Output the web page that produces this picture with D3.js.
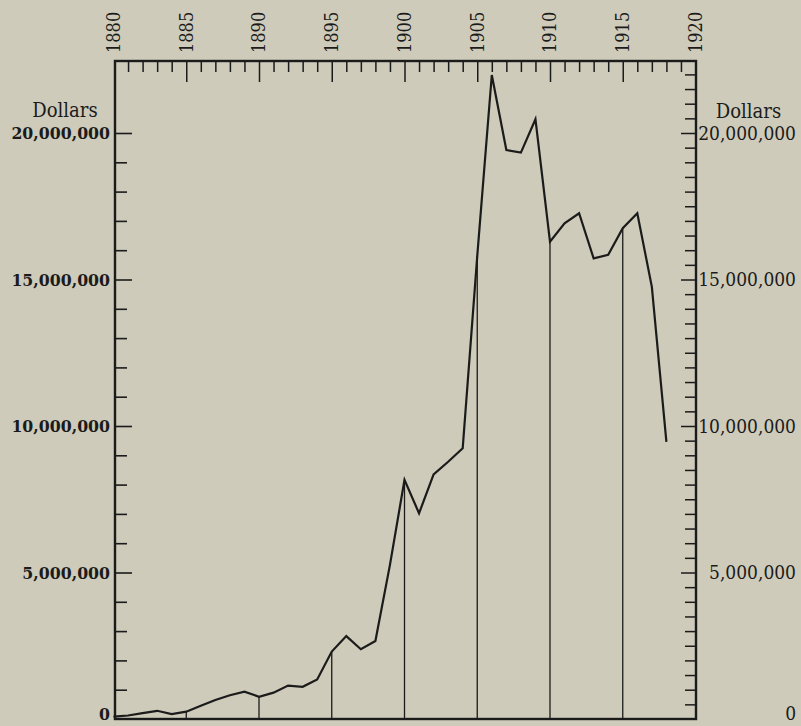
<!DOCTYPE html>
<html>
<head>
<meta charset="utf-8">
<script src="https://cdn.jsdelivr.net/npm/d3@7"></script>
<style>
  html, body { margin: 0; padding: 0; background: #cecbba; }
  svg { display: block; }
  text { font-family: "DejaVu Serif Condensed", "DejaVu Serif", serif; font-stretch: condensed; fill: #1b1b1b; }
</style>
</head>
<body>
<svg id="chart" width="801" height="726"></svg>
<script>
// Annual value in dollars, 1880–1918
const years = [1880, 1881, 1882, 1883, 1884, 1885, 1886, 1887, 1888, 1889,
               1890, 1891, 1892, 1893, 1894, 1895, 1896, 1897, 1898, 1899,
               1900, 1901, 1902, 1903, 1904, 1905, 1906, 1907, 1908, 1909,
               1910, 1911, 1912, 1913, 1914, 1915, 1916, 1917, 1918];
const values = [80000, 120000, 200000, 280000, 170000, 250000, 450000, 650000, 810000, 930000,
                760000, 900000, 1140000, 1100000, 1350000, 2300000, 2830000, 2380000, 2660000, 5260000,
                8160000, 7020000, 8350000, 8780000, 9240000, 15800000, 21980000, 19420000, 19330000, 20470000,
                16290000, 16920000, 17260000, 15720000, 15840000, 16750000, 17260000, 14750000, 9460000];

// Years marked with a drop line to the base
const dropYears = [1885, 1890, 1895, 1900, 1905, 1910, 1915];

// Axis labelling
const yearLabels = [1880, 1885, 1890, 1895, 1900, 1905, 1910, 1915, 1920];
const dollarLabels = [0, 5000000, 10000000, 15000000, 20000000];
const unitLabel = "Dollars";

const svg = d3.select("#chart");
const ink = "#1b1b1b";

const plotLeft = 115, plotRight = 696, plotTop = 61, plotBottom = 719;

const x = d3.scaleLinear().domain([1880, 1920]).range([113.5, 695.5]);
const y = d3.scaleLinear().domain([0, 20000000]).range([plotBottom, 133]);

const fmt = d3.format(",");

// Frame
svg.append("rect")
  .attr("x", plotLeft).attr("y", plotTop)
  .attr("width", plotRight - plotLeft).attr("height", plotBottom - plotTop)
  .attr("fill", "none").attr("stroke", ink).attr("stroke-width", 2.4);

// Top axis: yearly ticks, longer every fifth year
const topAxis = d3.axisTop(x)
  .tickValues(d3.range(1881, 1920))
  .tickSize(0).tickFormat("");
const gTop = svg.append("g").attr("transform", `translate(0,${plotTop})`).call(topAxis);
gTop.select(".domain").remove();
gTop.selectAll(".tick line")
  .attr("y1", 0)
  .attr("y2", d => d % 5 === 0 ? 21 : 11)
  .attr("stroke", ink).attr("stroke-width", 1.5);

// Year labels, set vertically above the frame
svg.append("g").selectAll("text")
  .data(yearLabels)
  .join("text")
  .attr("transform", d => `translate(${x(d)},53) rotate(-90)`)
  .attr("dy", "0.36em")
  .attr("text-anchor", "start")
  .attr("font-size", 18)
  .text(d => d);

// Left axis: millions, longer tick every five million
const leftAxis = d3.axisRight(y)
  .tickValues(d3.range(1000000, 20000001, 1000000))
  .tickSize(0).tickFormat("");
const gLeft = svg.append("g").attr("transform", `translate(${plotLeft},0)`).call(leftAxis);
gLeft.select(".domain").remove();
gLeft.selectAll(".tick line")
  .attr("x1", 0)
  .attr("x2", d => d % 5000000 === 0 ? 17 : 12)
  .attr("stroke", ink).attr("stroke-width", 1.6);

// Right axis: half-million ticks pointing inward
const rightAxis = d3.axisLeft(y)
  .tickValues(d3.range(500000, 22000001, 500000))
  .tickSize(0).tickFormat("");
const gRight = svg.append("g").attr("transform", `translate(${plotRight},0)`).call(rightAxis);
gRight.select(".domain").remove();
gRight.selectAll(".tick line")
  .attr("x1", 0)
  .attr("x2", d => d % 5000000 === 0 ? -15 : -11)
  .attr("stroke", ink).attr("stroke-width", 1.5);

// Dollar labels on both sides; the zero sits on the base line
svg.append("g").selectAll("text")
  .data(dollarLabels)
  .join("text")
  .attr("x", 110)
  .attr("y", d => d === 0 ? 720 : y(d))
  .attr("dy", d => d === 0 ? 0 : "0.36em")
  .attr("text-anchor", "end")
  .attr("font-size", 17.5)
  .attr("font-weight", "bold")
  .text(d => fmt(d));

svg.append("g").selectAll("text")
  .data(dollarLabels)
  .join("text")
  .attr("x", 796)
  .attr("y", d => d === 0 ? 720 : y(d))
  .attr("dy", d => d === 0 ? 0 : "0.36em")
  .attr("text-anchor", "end")
  .attr("font-size", 19)
  .text(d => fmt(d));

svg.append("text")
  .attr("x", 65).attr("y", 117)
  .attr("text-anchor", "middle")
  .attr("font-size", 20)
  .text(unitLabel);

svg.append("text")
  .attr("x", 748.5).attr("y", 118)
  .attr("text-anchor", "middle")
  .attr("font-size", 20)
  .text(unitLabel);

// Drop lines at each fifth year
const valueByYear = new Map(years.map((yr, i) => [yr, values[i]]));
svg.append("g").selectAll("line")
  .data(dropYears)
  .join("line")
  .attr("x1", d => x(d)).attr("x2", d => x(d))
  .attr("y1", d => y(valueByYear.get(d)))
  .attr("y2", plotBottom)
  .attr("stroke", ink).attr("stroke-width", 1.3);

// Value line
const line = d3.line()
  .x((d, i) => x(years[i]))
  .y(d => y(d));
svg.append("path")
  .datum(values)
  .attr("d", line)
  .attr("fill", "none")
  .attr("stroke", ink)
  .attr("stroke-width", 2.2)
  .attr("stroke-linejoin", "miter");
</script>
</body>
</html>
